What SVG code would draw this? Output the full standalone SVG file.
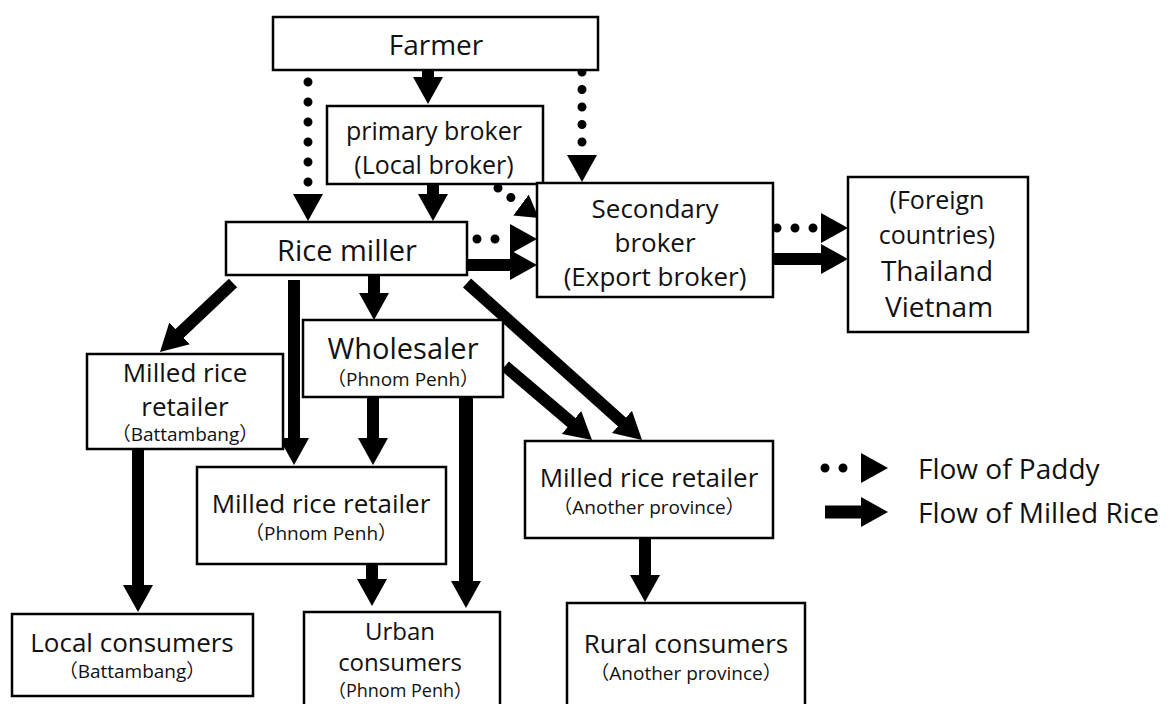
<svg xmlns="http://www.w3.org/2000/svg" width="1172" height="704" viewBox="0 0 1172 704">
<style>
.box{fill:#fff;stroke:#000;stroke-width:2.5}
text{font-family:"Open Sans","Noto Sans CJK JP",sans-serif;fill:#111;text-anchor:middle;dominant-baseline:central}
.L{font-size:29px}
.M{font-size:26px}
.S{font-size:19px}
.solid{stroke:#000;stroke-width:12;fill:none;marker-end:url(#h)}
.dot{stroke:#000;stroke-width:9;stroke-linecap:round;fill:none;marker-end:url(#d)}
</style>
<defs>
<marker id="h" markerUnits="userSpaceOnUse" viewBox="0 0 27 30" markerWidth="27" markerHeight="30" refX="4" refY="15" orient="auto"><path d="M0,0 L27,15 L0,30 z" fill="#000"/></marker>
<marker id="d" markerUnits="userSpaceOnUse" viewBox="0 0 27 30" markerWidth="27" markerHeight="30" refX="0" refY="15" orient="auto"><path d="M0,0 L27,15 L0,30 z" fill="#000"/></marker>
<marker id="ds" markerUnits="userSpaceOnUse" viewBox="0 0 22 26" markerWidth="22" markerHeight="26" refX="0" refY="13" orient="auto"><path d="M0,0 L22,13 L0,26 z" fill="#000"/></marker>
</defs>

<g id="connectors">
<line class="solid" x1="428" y1="70" x2="428" y2="81"/>
<line class="solid" x1="433" y1="184" x2="433" y2="198"/>
<line class="solid" x1="467" y1="265" x2="514" y2="265"/>
<line class="solid" x1="773" y1="259" x2="825" y2="259"/>
<line class="solid" x1="233" y1="283" x2="176.7" y2="336.2"/>
<line class="solid" x1="294" y1="280" x2="294" y2="442"/>
<line class="solid" x1="374" y1="276" x2="374" y2="297"/>
<line class="solid" x1="467" y1="283" x2="624.9" y2="424.6"/>
<line class="solid" x1="505" y1="366" x2="574.5" y2="425.1"/>
<line class="solid" x1="373" y1="397" x2="373" y2="442"/>
<line class="solid" x1="466" y1="397" x2="466" y2="585" style="stroke-width:14"/>
<line class="solid" x1="138" y1="449" x2="138" y2="589"/>
<line class="solid" x1="372" y1="564" x2="372" y2="583"/>
<line class="solid" x1="645" y1="538" x2="645" y2="579"/>
<line class="dot" x1="308" y1="82" x2="308" y2="194" style="stroke-dasharray:0 20"/>
<line class="dot" x1="582" y1="72" x2="582" y2="155" style="stroke-dasharray:0 17.5"/>
<line class="dot" x1="498" y1="188" x2="521" y2="205" style="stroke-dasharray:0 16;marker-end:url(#ds)"/>
<line class="dot" x1="477" y1="239" x2="510" y2="239" style="stroke-dasharray:0 18"/>
<line class="dot" x1="777" y1="228" x2="821" y2="228" style="stroke-dasharray:0 18"/>
</g>

<g id="farmer"><rect class="box" x="273" y="17" width="325" height="53"/><text class="L" x="436" y="44" style="font-size:28px">Farmer</text></g>
<g id="primary-broker"><rect class="box" x="327" y="106" width="216" height="78"/><text x="434" y="130" style="font-size:25px">primary broker</text><text x="434" y="164" style="font-size:25px">(Local broker)</text></g>
<g id="secondary-broker"><rect class="box" x="537" y="183" width="236" height="114"/><text class="M" x="655" y="208">Secondary</text><text class="M" x="655" y="242">broker</text><text class="M" x="655" y="276">(Export broker)</text></g>
<g id="foreign"><rect class="box" x="848" y="177" width="180" height="155"/><text x="937" y="199" style="font-size:25px">(Foreign</text><text x="937" y="234" style="font-size:25px">countries)</text><text x="937" y="270" style="font-size:28px">Thailand</text><text x="939" y="306" style="font-size:28px">Vietnam</text></g>
<g id="rice-miller"><rect class="box" x="226" y="222" width="241" height="53"/><text class="L" x="347" y="249">Rice miller</text></g>
<g id="wholesaler"><rect class="box" x="303" y="320" width="200" height="77"/><text class="L" x="403" y="347">Wholesaler</text><text class="S" x="403" y="379">（Phnom Penh）</text></g>
<g id="retailer-battambang"><rect class="box" x="87" y="354" width="196" height="95"/><text class="M" x="185" y="372">Milled rice</text><text class="M" x="185" y="406">retailer</text><text class="S" x="185" y="434">（Battambang）</text></g>
<g id="retailer-phnom-penh"><rect class="box" x="197" y="467" width="249" height="97"/><text class="M" x="321" y="503">Milled rice retailer</text><text class="S" x="321" y="533">（Phnom Penh）</text></g>
<g id="retailer-another"><rect class="box" x="525" y="441" width="248" height="97"/><text class="M" x="649" y="477">Milled rice retailer</text><text class="S" x="649" y="507">（Another province）</text></g>
<g id="local-consumers"><rect class="box" x="12" y="614" width="241" height="82"/><text class="M" x="132" y="642">Local consumers</text><text class="S" x="132" y="671">（Battambang）</text></g>
<g id="urban-consumers"><rect class="box" x="304" y="612" width="196" height="110"/><text x="400" y="630" style="font-size:24px">Urban</text><text x="400" y="661" style="font-size:24px">consumers</text><text x="400" y="690" style="font-size:18px">（Phnom Penh）</text></g>
<g id="rural-consumers"><rect class="box" x="567" y="603" width="238" height="120"/><text class="M" x="686" y="643">Rural consumers</text><text class="S" x="686" y="673">（Another province）</text></g>

<g id="legend">
<line class="dot" x1="825" y1="468" x2="861" y2="468" style="stroke-dasharray:0 18"/>
<line class="solid" x1="825" y1="512" x2="865" y2="512" style="stroke-width:13"/>
<text x="918" y="468" style="text-anchor:start;font-size:28px">Flow of Paddy</text>
<text x="918" y="512" style="text-anchor:start;font-size:28px">Flow of Milled Rice</text>
</g>
</svg>
